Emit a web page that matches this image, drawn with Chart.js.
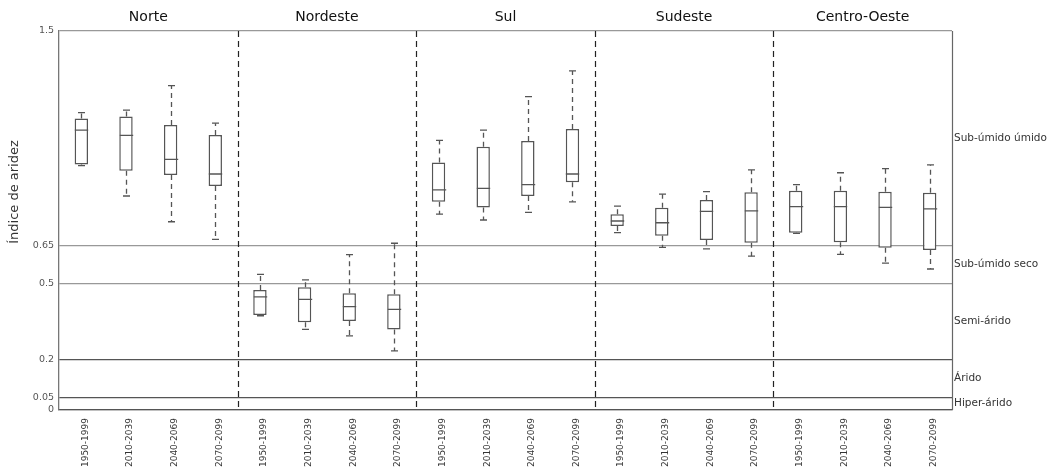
<!DOCTYPE html>
<html>
<head>
<meta charset="utf-8">
<script src="https://cdn.jsdelivr.net/npm/chart.js@4/dist/chart.umd.min.js"></script>
<style>
  body { margin: 0; background: #fff; }
  #wrap { width: 1057px; height: 467px; }
</style>
</head>
<body>
<div id="wrap"><canvas id="grafico"></canvas></div>
<script>
const regioes = ["Norte", "Nordeste", "Sul", "Sudeste", "Centro-Oeste"];
const periodos = ["1950-1999", "2010-2039", "2040-2069", "2070-2099"];

// one value per box, 4 periods x 5 regions, in the order of regioes
const minimos = [0.967, 0.847, 0.745, 0.675, 0.373, 0.319, 0.293, 0.234, 0.775, 0.752, 0.782, 0.824, 0.702, 0.644, 0.638, 0.609, 0.699, 0.616, 0.581, 0.558];
const quartil1 = [0.972, 0.947, 0.930, 0.887, 0.376, 0.347, 0.352, 0.319, 0.824, 0.801, 0.847, 0.901, 0.728, 0.690, 0.673, 0.662, 0.702, 0.664, 0.642, 0.633];
const medianas = [1.108, 1.087, 0.992, 0.934, 0.448, 0.438, 0.409, 0.398, 0.871, 0.877, 0.892, 0.934, 0.748, 0.741, 0.786, 0.788, 0.805, 0.805, 0.802, 0.796];
const quartil3 = [1.154, 1.162, 1.128, 1.088, 0.475, 0.486, 0.462, 0.458, 0.980, 1.042, 1.065, 1.112, 0.775, 0.800, 0.831, 0.862, 0.868, 0.868, 0.864, 0.860];
const maximos = [1.177, 1.187, 1.284, 1.135, 0.537, 0.515, 0.615, 0.660, 1.067, 1.108, 1.240, 1.342, 0.807, 0.854, 0.864, 0.950, 0.892, 0.939, 0.955, 0.970];

const ticksY = [0, 0.05, 0.2, 0.5, 0.65, 1.5];
const limitesClasse = [0, 0.05, 0.2, 0.5, 0.65, 1.5];
const classes = ["Hiper-árido", "Árido", "Semi-árido", "Sub-úmido seco", "Sub-úmido úmido"];

const labels = [];
regioes.forEach(() => periodos.forEach((p) => labels.push(p)));
const caixas = quartil1.map((q, i) => [q, quartil3[i]]);

const corCaixa = "#555";

const boxPlugin = {
  id: "boxPlugin",
  afterDatasetsDraw(chart) {
    const ctx = chart.ctx;
    const x = chart.scales.x;
    const y = chart.scales.y;
    const area = chart.chartArea;

    ctx.save();
    // whiskers, caps and medians
    ctx.strokeStyle = corCaixa;
    ctx.lineWidth = 1.3;
    const meta = chart.getDatasetMeta(0);
    labels.forEach((l, i) => {
      const cx = Math.round(x.getPixelForValue(i)) + 0.5;
      const bw = meta.data[i].width;
      ctx.setLineDash([5, 4]);
      ctx.beginPath();
      ctx.moveTo(cx, y.getPixelForValue(quartil3[i]));
      ctx.lineTo(cx, y.getPixelForValue(maximos[i]));
      ctx.moveTo(cx, y.getPixelForValue(quartil1[i]));
      ctx.lineTo(cx, y.getPixelForValue(minimos[i]));
      ctx.stroke();
      ctx.setLineDash([]);
      ctx.beginPath();
      [maximos[i], minimos[i]].forEach((v) => {
        const py = y.getPixelForValue(v);
        ctx.moveTo(cx - 3.5, py);
        ctx.lineTo(cx + 3.5, py);
      });
      const pm = y.getPixelForValue(medianas[i]);
      ctx.moveTo(cx - bw / 2, pm);
      ctx.lineTo(cx + bw / 2, pm);
      ctx.stroke();
    });

    // dashed region separators
    ctx.strokeStyle = "#222";
    ctx.lineWidth = 1.2;
    ctx.setLineDash([6, 4]);
    for (let r = 1; r < regioes.length; r++) {
      const sx = Math.round((x.getPixelForValue(r * 4 - 1) + x.getPixelForValue(r * 4)) / 2) + 0.5;
      ctx.beginPath();
      ctx.moveTo(sx, area.top);
      ctx.lineTo(sx, area.bottom);
      ctx.stroke();
    }
    ctx.setLineDash([]);

    // right border
    ctx.strokeStyle = "#666";
    ctx.beginPath();
    ctx.moveTo(area.right + 0.5, area.top);
    ctx.lineTo(area.right + 0.5, area.bottom);
    ctx.stroke();

    // region titles
    ctx.fillStyle = "#111";
    ctx.font = "14px 'DejaVu Sans'";
    ctx.textAlign = "center";
    ctx.textBaseline = "middle";
    regioes.forEach((nome, r) => {
      const cx = (x.getPixelForValue(r * 4) + x.getPixelForValue(r * 4 + 3)) / 2;
      ctx.fillText(nome, cx, 17);
    });

    // aridity classes on the right
    ctx.fillStyle = "#333";
    ctx.font = "10.5px 'DejaVu Sans'";
    ctx.textAlign = "left";
    classes.forEach((c, k) => {
      const v = (limitesClasse[k] + limitesClasse[k + 1]) / 2;
      ctx.fillText(c, area.right + 2, y.getPixelForValue(v));
    });

    // y title
    ctx.translate(15, 192);
    ctx.rotate(-Math.PI / 2);
    ctx.textAlign = "center";
    ctx.fillStyle = "#333";
    ctx.font = "13px 'DejaVu Sans'";
    ctx.fillText("Índice de aridez", 0, 0);
    ctx.restore();
  }
};

new Chart(document.getElementById("grafico"), {
  type: "bar",
  data: {
    labels: labels,
    datasets: [
      {
        data: caixas,
        backgroundColor: "#fff",
        borderColor: corCaixa,
        borderWidth: 1.5,
        borderSkipped: false,
        barPercentage: 0.3,
        categoryPercentage: 1,
      },
    ],
  },
  options: {
    responsive: true,
    maintainAspectRatio: false,
    animation: false,
    layout: { padding: { top: 31, right: 105, left: 0, bottom: 0 } },
    plugins: {
      legend: { display: false },
      tooltip: { enabled: false },
    },
    scales: {
      x: {
        grid: { display: false },
        border: { color: "#555", width: 1.3 },
        ticks: {
          autoSkip: false,
          minRotation: 90,
          maxRotation: 90,
          padding: 0,
          labelOffset: 4,
          color: "#333",
          font: { family: "DejaVu Sans", size: 9 },
        },
        afterFit: (scale) => {
          scale.height = 57;
        },
      },
      y: {
        min: 0,
        max: 1.5,
        afterBuildTicks: (scale) => {
          scale.ticks = ticksY.map((v) => ({ value: v }));
        },
        grid: {
          drawTicks: false,
          lineWidth: 1.3,
          color: (c) => (c.tick && (c.tick.value === 0.2 || c.tick.value === 0.05) ? "#555" : "#999"),
        },
        border: { color: "#777", width: 1.3 },
        ticks: {
          autoSkip: false,
          padding: 5,
          color: "#555",
          font: { family: "DejaVu Sans", size: 9.5 },
          callback: (value) => String(value),
        },
        afterFit: (scale) => {
          scale.width = 59;
        },
      },
    },
  },
  plugins: [boxPlugin],
});
</script>
</body>
</html>
